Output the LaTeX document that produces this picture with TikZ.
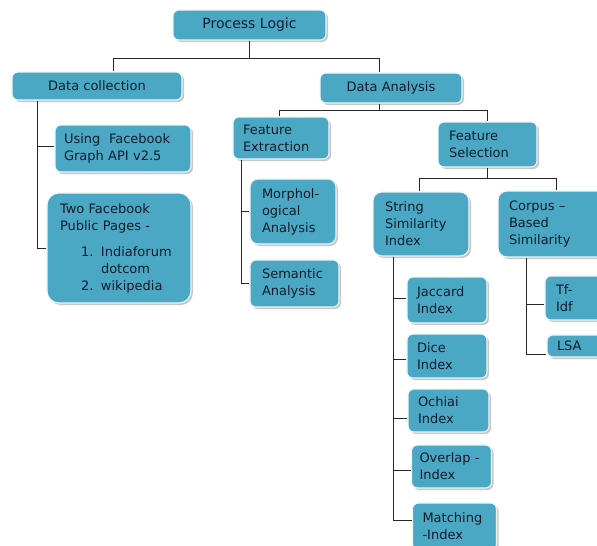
\documentclass[tikz,border=0pt]{standalone}
\usepackage{fontspec}
\setmainfont{DejaVu Sans}
\usetikzlibrary{shadows,calc}
\definecolor{boxblue}{RGB}{75,168,196}
\definecolor{txt}{RGB}{18,28,42}
\begin{document}
\begin{tikzpicture}[x=1pt,y=-1pt,
  tbox/.style={rectangle, rounded corners=6pt, fill=boxblue, draw=white!90!boxblue,
    line width=1.1pt, text=txt, font=\fontsize{13}{17}\selectfont, inner ysep=2pt,
    drop shadow={shadow xshift=2pt, shadow yshift=-2pt, fill=black!40, opacity=0.55}},
  cbox/.style={tbox, align=center},
  lbox/.style n args={4}{tbox, align=left, minimum width=#1, minimum height=#2,
    inner xsep=#3, text width=#4},
  conn/.style={draw=black!85, line width=0.9pt}
]
\clip (0,0) rectangle (597,546);
\fill[white] (0,0) rectangle (597,546);

% nodes
\node[cbox, minimum width=153pt, minimum height=30pt, font=\fontsize{14}{17}\selectfont] (PL) at (249.5,25) {Process Logic};
\node[cbox, minimum width=170pt, minimum height=28pt] (DC) at (97,86) {Data collection};
\node[cbox, minimum width=142pt, minimum height=30pt] (DA) at (391,88) {Data Analysis};

\node[lbox={136pt}{47pt}{9pt}{118pt}] (UF) at (123,148.5) {Using\ \ Facebook\\Graph API v2.5};
\node[lbox={144pt}{110pt}{13pt}{118pt}, rounded corners=12pt] (TF) at (119,248)
  {Two Facebook\\Public Pages -\\[9pt]\hspace*{21pt}\makebox[20pt][l]{1.}Indiaforum\\
   \hspace*{41pt}dotcom\\\hspace*{21pt}\makebox[20pt][l]{2.}wikipedia};

\node[lbox={96pt}{42pt}{10pt}{76pt}] (FE) at (281,138) {Feature\\Extraction};
\node[lbox={99pt}{45pt}{11pt}{77pt}] (FS) at (487.5,144.5) {Feature\\Selection};

\node[lbox={86pt}{65pt}{12pt}{62pt}, rounded corners=8pt] (MA) at (293,211.5) {Morphol-\\ogical\\Analysis};
\node[lbox={89pt}{47pt}{12pt}{65pt}] (SA) at (294.5,283.5) {Semantic\\Analysis};

\node[lbox={96pt}{64pt}{12pt}{72pt}, rounded corners=9pt] (SS) at (421,224) {String\\Similarity\\Index};
\node[lbox={114pt}{66pt}{11pt}{92pt}, rounded corners=9pt] (CB) at (555,224) {Corpus \textendash\\Based\\Similarity};

\node[lbox={80pt}{46pt}{10pt}{60pt}] (JI) at (447,300) {Jaccard\\Index};
\node[lbox={80pt}{44pt}{10pt}{60pt}] (DI) at (447,356) {Dice\\Index};
\node[lbox={81pt}{43pt}{10pt}{61pt}] (OI) at (448.5,410.5) {Ochiai\\Index};
\node[lbox={80pt}{43pt}{8pt}{64pt}] (OV) at (451.5,466.5) {Overlap -\\Index};
\node[lbox={84pt}{47pt}{10pt}{64pt}] (MI) at (454.5,526.5) {Matching\\-Index};

\node[lbox={67pt}{44pt}{11pt}{45pt}] (TI) at (578.5,298) {Tf-\\Idf};
\node[lbox={65pt}{22pt}{10pt}{45pt}] (LS) at (579.5,346) {LSA};

% junction coordinates
\coordinate (j1) at (113,58);
\coordinate (j2) at (379,58);
\coordinate (j3) at (279,110);
\coordinate (j4) at (487,110);
\coordinate (j5) at (419,178);
\coordinate (j6) at (556,178);
\coordinate (t1) at (37,0);
\coordinate (t2) at (241,0);
\coordinate (t3) at (393,0);
\coordinate (t4) at (526,0);

\coordinate (ufb) at ($(UF.west)+(0,-2.5)$);
\coordinate (jib) at ($(JI.west)+(0,-2)$);
\coordinate (dib) at ($(DI.west)+(0,3)$);
\coordinate (oib) at ($(OI.west)+(0,7.5)$);
\coordinate (ovb) at ($(OV.west)+(0,3.5)$);
\coordinate (mib) at ($(MI.west)+(0,-6.5)$);
\coordinate (tib) at ($(TI.west)+(0,6)$);
\coordinate (lsb) at ($(LS.west)+(0,8)$);

% connectors
\draw[conn] (PL.south) -- (PL.south |- j1);
\draw[conn] (DC.north -| j1) -- (j1) -- (j2) -- (DA.north -| j2);

\draw[conn] (DC.south -| t1) |- (TF.west);
\draw[conn] (t1 |- ufb) -- (ufb);

\draw[conn] (DA.south -| j2) -- (j2 |- j3);
\draw[conn] (FE.north -| j3) -- (j3) -- (j4) -- (FS.north -| j4);

\draw[conn] (FE.south -| t2) |- (SA.west);
\draw[conn] (t2 |- MA.west) -- (MA.west);

\draw[conn] (FS.south -| j4) -- (j4 |- j5);
\draw[conn] (SS.north -| j5) -- (j5) -- (j6) -- (CB.north -| j6);

\draw[conn] (SS.south -| t3) |- (mib);
\draw[conn] (t3 |- jib) -- (jib);
\draw[conn] (t3 |- dib) -- (dib);
\draw[conn] (t3 |- oib) -- (oib);
\draw[conn] (t3 |- ovb) -- (ovb);

\draw[conn] (CB.south -| t4) |- (lsb);
\draw[conn] (t4 |- tib) -- (tib);
\end{tikzpicture}
\end{document}
